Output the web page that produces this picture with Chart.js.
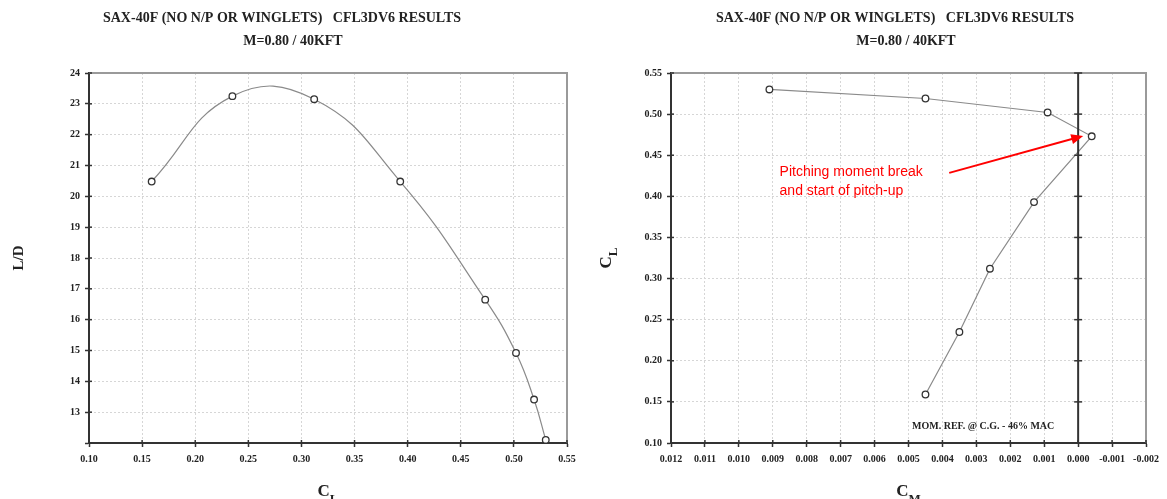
<!DOCTYPE html>
<html lang="en">
<head>
    <meta charset="UTF-8">
    <title>SAX-40F CFL3DV6 Results</title>
    <script src="https://cdn.jsdelivr.net/npm/chart.js"></script>
    <style>
        body {
            margin: 0;
            background: #fff;
            width: 1167px;
            height: 499px;
            position: relative;
            overflow: hidden;
        }
        .panel {
            position: absolute;
            top: 0;
            height: 499px;
        }
        #leftPanel { left: 0; width: 583px; }
        #rightPanel { left: 583px; width: 584px; }
    </style>
</head>
<body>
    <div class="panel" id="leftPanel"><canvas id="ldChart" width="583" height="499"></canvas></div>
    <div class="panel" id="rightPanel"><canvas id="cmChart" width="584" height="499"></canvas></div>

    <script>
        // lift coefficient at each CFD run (same runs in both plots)
        const liftCoef = [0.159, 0.235, 0.312, 0.393, 0.473, 0.502, 0.519, 0.530];
        const liftToDrag = [20.48, 23.25, 23.15, 20.48, 16.65, 14.92, 13.41, 12.10];
        const pitchMoment = [0.0045, 0.0035, 0.0026, 0.0013, -0.0004, 0.0009, 0.0045, 0.0091];

        const titleLine1 = 'SAX-40F (NO N/P OR WINGLETS)   CFL3DV6 RESULTS';
        const titleLine2 = 'M=0.80 / 40KFT';
        const noteText = 'MOM. REF. @ C.G. - 46% MAC';
        const annotationLines = ['Pitching moment break', 'and start of pitch-up'];

        const serifBold = 'bold 10px "Liberation Serif", "DejaVu Serif", serif';

        function points(xs, ys) {
            return xs.map((x, i) => ({ x: x, y: ys[i] }));
        }

        // draws titles, axis titles with subscripts, frame and the extra marks
        const extrasPlugin = {
            id: 'extras',
            afterDraw(chart, args, opts) {
                const ctx = chart.ctx;
                const area = chart.chartArea;
                const xs = chart.scales.x;
                const ys = chart.scales.y;
                ctx.save();

                // grey frame on top and right
                ctx.strokeStyle = '#9a9a9a';
                ctx.lineWidth = 2;
                ctx.beginPath();
                ctx.moveTo(area.left, area.top);
                ctx.lineTo(area.right, area.top);
                ctx.lineTo(area.right, area.bottom);
                ctx.stroke();

                // tick marks poke inside the plot a little, like the original
                ctx.strokeStyle = '#333';
                ctx.lineWidth = 1.5;
                xs.ticks.forEach(t => {
                    const px = xs.getPixelForValue(t.value);
                    ctx.beginPath();
                    ctx.moveTo(px, area.bottom);
                    ctx.lineTo(px, area.bottom - 3);
                    ctx.stroke();
                });
                ys.ticks.forEach(t => {
                    const py = ys.getPixelForValue(t.value);
                    ctx.beginPath();
                    ctx.moveTo(area.left, py);
                    ctx.lineTo(area.left + 3, py);
                    ctx.stroke();
                });

                // titles
                ctx.fillStyle = '#222';
                ctx.textAlign = 'center';
                ctx.textBaseline = 'alphabetic';
                ctx.font = 'bold 14px "Liberation Serif", serif';
                ctx.fillText(titleLine1, opts.titleX, 22);
                ctx.fillText(titleLine2, opts.titleX + 11, 45);

                // x axis title with subscript
                const cx = (area.left + area.right) / 2;
                ctx.font = 'bold 17px "Liberation Serif", serif';
                ctx.textAlign = 'left';
                const cw = ctx.measureText('C').width;
                ctx.font = 'bold 13px "Liberation Serif", serif';
                const sw = ctx.measureText(opts.xSub).width;
                const start = cx - (cw + sw) / 2;
                ctx.font = 'bold 17px "Liberation Serif", serif';
                ctx.fillText('C', start, 496);
                ctx.font = 'bold 13px "Liberation Serif", serif';
                ctx.fillText(opts.xSub, start + cw, 503);

                // y axis title (rotated)
                ctx.save();
                ctx.translate(opts.yTitleX, (area.top + area.bottom) / 2);
                ctx.rotate(-Math.PI / 2);
                if (opts.ySub) {
                    ctx.font = 'bold 17px "Liberation Serif", serif';
                    const c2 = ctx.measureText('C').width;
                    ctx.font = 'bold 13px "Liberation Serif", serif';
                    const s2 = ctx.measureText(opts.ySub).width;
                    const st = -(c2 + s2) / 2;
                    ctx.font = 'bold 17px "Liberation Serif", serif';
                    ctx.fillText('C', st, 6);
                    ctx.font = 'bold 13px "Liberation Serif", serif';
                    ctx.fillText(opts.ySub, st + c2, 12);
                } else {
                    ctx.font = 'bold 15px "Liberation Serif", serif';
                    ctx.textAlign = 'center';
                    ctx.fillText(opts.yTitle, 0, 5);
                }
                ctx.restore();

                if (opts.zeroLine) {
                    // bold line at CM = 0 with tick marks across it
                    const zx = xs.getPixelForValue(0);
                    ctx.strokeStyle = '#333';
                    ctx.lineWidth = 2;
                    ctx.beginPath();
                    ctx.moveTo(zx, area.top);
                    ctx.lineTo(zx, area.bottom);
                    ctx.stroke();
                    ctx.lineWidth = 1.5;
                    ys.ticks.forEach(t => {
                        const py = ys.getPixelForValue(t.value);
                        ctx.beginPath();
                        ctx.moveTo(zx - 4, py);
                        ctx.lineTo(zx + 4, py);
                        ctx.stroke();
                    });

                    // reference note
                    ctx.fillStyle = '#222';
                    ctx.font = serifBold;
                    ctx.textAlign = 'center';
                    ctx.fillText(noteText, xs.getPixelForValue(0.0028), ys.getPixelForValue(0.117));

                    // red annotation with arrow
                    ctx.fillStyle = '#ff0000';
                    ctx.strokeStyle = '#ff0000';
                    ctx.font = '14px "Liberation Sans", Arial, sans-serif';
                    ctx.textAlign = 'left';
                    const tx = xs.getPixelForValue(0.0088);
                    const ty = ys.getPixelForValue(0.4245);
                    ctx.fillText(annotationLines[0], tx, ty);
                    ctx.fillText(annotationLines[1], tx, ty + 19);

                    const ax = xs.getPixelForValue(0.0038);
                    const ay = ys.getPixelForValue(0.4285);
                    const bx = xs.getPixelForValue(-0.00015);
                    const by = ys.getPixelForValue(0.4735);
                    const ang = Math.atan2(by - ay, bx - ax);
                    ctx.lineWidth = 2;
                    ctx.beginPath();
                    ctx.moveTo(ax, ay);
                    ctx.lineTo(bx - 8 * Math.cos(ang), by - 8 * Math.sin(ang));
                    ctx.stroke();
                    ctx.beginPath();
                    ctx.moveTo(bx, by);
                    ctx.lineTo(bx - 12 * Math.cos(ang) + 5 * Math.sin(ang), by - 12 * Math.sin(ang) - 5 * Math.cos(ang));
                    ctx.lineTo(bx - 12 * Math.cos(ang) - 5 * Math.sin(ang), by - 12 * Math.sin(ang) + 5 * Math.cos(ang));
                    ctx.closePath();
                    ctx.fill();
                }
                ctx.restore();
            }
        };

        function axisStyle(range, stepSize, padding, format) {
            return {
                min: range[0],
                max: range[1],
                grid: {
                    color: '#d6d6d6',
                    lineWidth: 1,
                    tickLength: 4,
                    tickColor: '#333',
                    tickWidth: 1.5
                },
                border: {
                    color: '#333',
                    width: 2,
                    dash: [2, 2]
                },
                ticks: {
                    stepSize: stepSize,
                    padding: padding,
                    maxRotation: 0,
                    autoSkip: false,
                    color: '#222',
                    font: { family: '"Liberation Serif", serif', size: 10, weight: 'bold' },
                    callback: format
                }
            };
        }

        function makeChart(id, data, tension, cfg) {
            const xAxis = axisStyle(cfg.xRange, cfg.xStep, 6, cfg.xFormat);
            const yAxis = axisStyle(cfg.yRange, cfg.yStep, 5, cfg.yFormat);
            xAxis.reverse = !!cfg.xReverse;
            xAxis.afterFit = s => { s.height = 56; };
            yAxis.afterFit = s => { s.width = cfg.yWidth; };

            return new Chart(document.getElementById(id), {
                type: 'scatter',
                data: {
                    datasets: [{
                        data: data,
                        showLine: true,
                        tension: tension,
                        borderColor: '#8a8a8a',
                        borderWidth: 1.2,
                        pointRadius: 3.3,
                        pointHoverRadius: 3.3,
                        pointBorderWidth: 1.3,
                        pointBorderColor: '#333',
                        pointBackgroundColor: '#fff'
                    }]
                },
                options: {
                    responsive: false,
                    animation: false,
                    layout: { padding: { top: 73, right: cfg.padRight, bottom: 0, left: 0 } },
                    plugins: {
                        legend: { display: false },
                        tooltip: { enabled: false },
                        extras: cfg.extras
                    },
                    scales: { x: xAxis, y: yAxis }
                },
                plugins: [extrasPlugin]
            });
        }

        makeChart('ldChart', points(liftCoef, liftToDrag), 0.45, {
            xRange: [0.10, 0.55], xStep: 0.05,
            yRange: [12, 24], yStep: 1,
            xFormat: v => v.toFixed(2),
            yFormat: v => (v === 12 ? '' : String(v)),
            yWidth: 89,
            padRight: 16,
            extras: { titleX: 282, xSub: 'L', yTitle: 'L/D', yTitleX: 18 }
        });

        makeChart('cmChart', points(pitchMoment, liftCoef), 0, {
            xRange: [-0.002, 0.012], xStep: 0.001, xReverse: true,
            yRange: [0.10, 0.55], yStep: 0.05,
            xFormat: v => v.toFixed(3),
            yFormat: v => v.toFixed(2),
            yWidth: 88,
            padRight: 21,
            extras: { titleX: 312, xSub: 'M', ySub: 'L', yTitleX: 22, zeroLine: true }
        });
    </script>
</body>
</html>
